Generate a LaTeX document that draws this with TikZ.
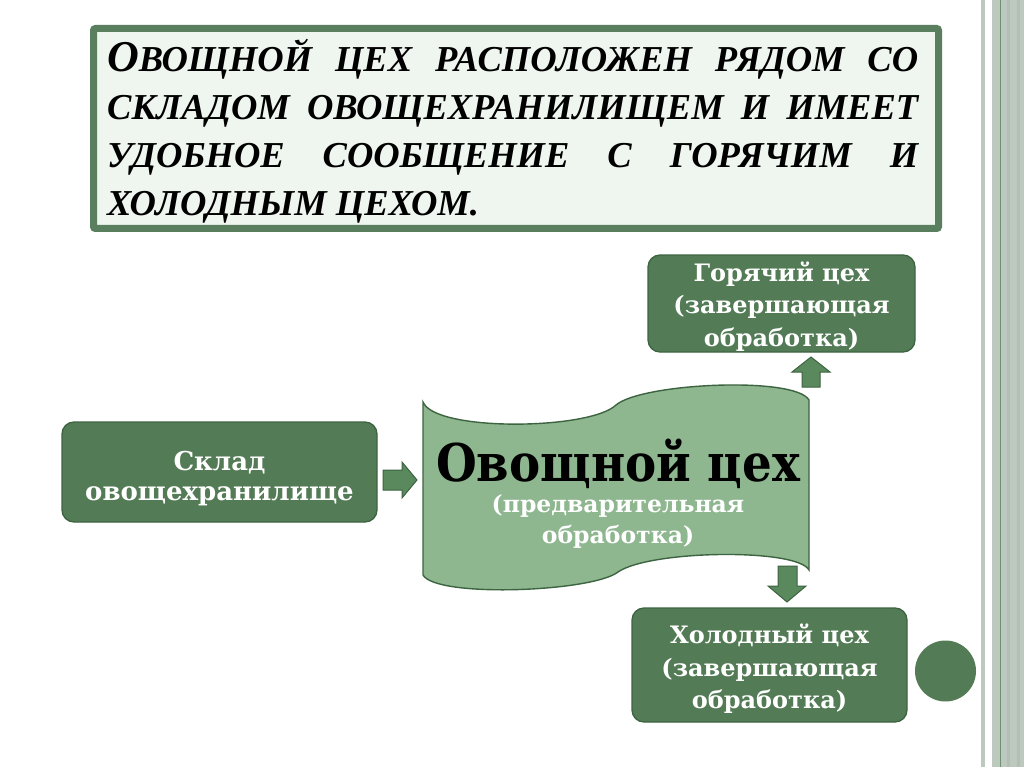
\documentclass[tikz,border=0pt]{standalone}
\usepackage{fontspec}
\newfontfamily\boxfont{DejaVu Serif}
\newfontfamily\bigfont[FakeStretch=0.9]{DejaVu Serif}
\newfontfamily\titlefont{Liberation Serif}
\newcommand\tbig[1]{{\fontsize{44}{40}\selectfont #1}}
\definecolor{boxfill}{RGB}{83,123,86}
\definecolor{boxline}{RGB}{61,100,65}
\definecolor{bannerfill}{RGB}{142,183,144}
\definecolor{arrowfill}{RGB}{90,137,93}
\definecolor{titleborder}{RGB}{90,127,94}
\definecolor{titlefill}{RGB}{239,245,239}
\definecolor{stripe}{RGB}{189,200,190}
\definecolor{stripedark}{RGB}{178,191,179}
\definecolor{stripeline}{RGB}{110,145,112}
\tikzset{
  greenbox/.style={draw=boxline, line width=1.3pt, fill=boxfill, rounded corners=12pt, inner sep=0pt},
  boxtext/.style={text=white, align=center, inner sep=0pt,
    font=\boxfont\bfseries\fontsize{24}{32.5}\selectfont},
  blockarrow/.style={draw=boxline, line width=1pt, fill=arrowfill, line join=miter},
  titleline/.style={anchor=base west, inner sep=0pt,
    font=\titlefont\bfseries\itshape\fontsize{36.5}{40}\selectfont},
}
\begin{document}
\begin{tikzpicture}[x=1pt,y=-1pt]
\useasboundingbox (0,0) rectangle (1024,767);
\fill[white] (0,0) rectangle (1024,767);
% right stripes
\fill[stripe] (981,0) rectangle (985,767);
\fill[stripe] (992,0) rectangle (1024,767);
\fill[stripedark] (1007,0) rectangle (1010,767);
\fill[stripedark] (1017,0) rectangle (1020,767);
\draw[stripeline, line width=0.8pt] (1000,0) -- (1000,767);

% title box
\node[draw=titleborder, line width=7pt, fill=titlefill, rounded corners=2pt,
      minimum width=845, minimum height=200, inner sep=0pt] (title) at (516,128.5) {};
\node[titleline] (t1) at (107,72) {\makebox[811pt]{\tbig{О}ВОЩНОЙ\hfill ЦЕХ\hfill РАСПОЛОЖЕН\hfill РЯДОМ\hfill СО}};
\node[titleline] (t2) at (107,120) {\makebox[811pt]{СКЛАДОМ\hfill ОВОЩЕХРАНИЛИЩЕМ\hfill И\hfill ИМЕЕТ}};
\node[titleline] (t3) at (107,168) {\makebox[811pt]{УДОБНОЕ\hfill СООБЩЕНИЕ\hfill С\hfill ГОРЯЧИМ\hfill И}};
\node[titleline] (t4) at (107,216) {ХОЛОДНЫМ ЦЕХОМ.};

% banner (tape) shape
\draw[draw=boxline, line width=1.4pt, fill=bannerfill]
  (423,402) .. controls (435,432) and (590,430) .. (616,405)
  .. controls (642,383) and (795,376) .. (809,400)
  -- (809,570)
  .. controls (797,548) and (650,550) .. (618,572)
  .. controls (592,592) and (436,598) .. (423,575) -- cycle;
\node[inner sep=0pt, anchor=base, font=\bigfont\bfseries\fontsize{52}{60}\selectfont] (ovosh) at (618,481) {Овощной цех};
\node[inner sep=0pt, align=center, text=white, font=\boxfont\bfseries\fontsize{23.5}{31}\selectfont] (ovoshsub) at (618,522) {(предварительная\\обработка)};

% boxes
\node[greenbox, minimum width=315, minimum height=100] (sklad) at (219.5,472) {};
\node[boxtext, font=\boxfont\bfseries\fontsize{26}{30}\selectfont] (skladtext) at ([yshift=-7pt]sklad.center) {Склад\\овощехранилище};
\node[greenbox, minimum width=267, minimum height=97] (hot) at (781.5,303.5) {};
\node[boxtext] (hottext) at ([yshift=-3pt]hot.center) {Горячий цех\\(завершающая\\обработка)};
\node[greenbox, minimum width=275, minimum height=114] (cold) at (769.5,665) {};
\node[boxtext] (coldtext) at ([yshift=-4pt]cold.center) {Холодный цех\\(завершающая\\обработка)};

% block arrows
\draw[blockarrow] (383,470) -- (402,470) -- (402,462) -- (417,480) -- (402,498) -- (402,490) -- (383,490) -- cycle;
\draw[blockarrow] (802,387) -- (802,372) -- (792,372) -- (811,357) -- (830,372) -- (820,372) -- (820,387) -- cycle;
\draw[blockarrow] (778,566) -- (797,566) -- (797,586) -- (806,586) -- (787,602) -- (768,586) -- (778,586) -- cycle;

% dot
\node[circle, fill=boxfill, minimum size=61, inner sep=0pt] (dot) at (945.5,671) {};
\end{tikzpicture}
\end{document}
